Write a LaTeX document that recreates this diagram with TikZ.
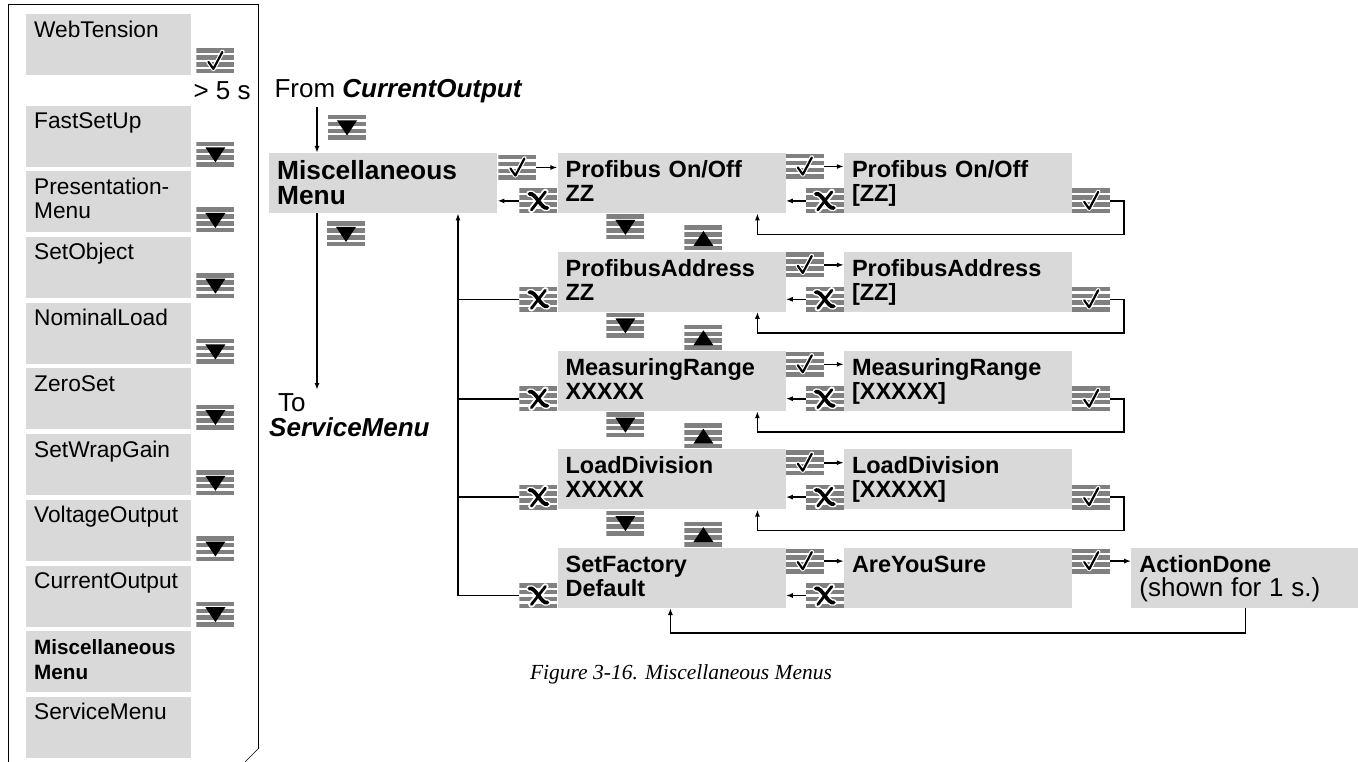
\documentclass[tikz,border=0pt]{standalone}
\usepackage{fontspec}
\setmainfont{Liberation Sans}
\newfontfamily\capfont{Liberation Serif}
\usetikzlibrary{arrows.meta, positioning, calc}
\definecolor{boxgray}{RGB}{217,217,217}
\definecolor{bargray}{RGB}{128,128,128}

% key symbols, drawn inside the icon (y runs downwards)
\newcommand{\keystripes}{\foreach \k in {0,1,2,3}
  \fill[bargray] ([yshift=-\k*6.833pt]path picture bounding box.north west) rectangle ++(38pt,-4.5pt);}
\newcommand{\symdown}{\fill[black, shift={(path picture bounding box.center)}] (-10,-7) -- (10,-7) -- (0,8) -- cycle;}
\newcommand{\symup}{\fill[black, shift={(path picture bounding box.center)}] (-10,8) -- (10,8) -- (0,-7) -- cycle;}
\newcommand{\symcheck}{\begin{scope}[shift={(path picture bounding box.center)}, line cap=round, line join=round]
  \draw[white, line width=4.5pt] (-7,1) -- (-2,8) -- (7,-9);
  \draw[black, line width=2.2pt] (-7,1) -- (-2,8) -- (7,-9);
  \end{scope}}
\newcommand{\symesc}{\begin{scope}[shift={(path picture bounding box.center)}, line cap=round]
  \draw[white, line width=6.5pt] (-9,-7) .. controls (-3,-9) and (3,9) .. (9,7) (7,-9) -- (-7,9);
  \draw[black, line width=3.8pt] (-9,-7) .. controls (-3,-9) and (3,9) .. (9,7);
  \draw[black, line width=2.8pt] (7,-9) -- (-7,9);
  \end{scope}}

\tikzset{
  keybars/.style={minimum width=38pt, minimum height=25pt, inner sep=0pt, outer sep=0pt},
  keychk/.style={keybars, path picture={\keystripes\symcheck}},
  keyesc/.style={keybars, path picture={\keystripes\symesc}},
  keydn/.style={keybars, path picture={\keystripes\symdown}},
  keyup/.style={keybars, path picture={\keystripes\symup}}
}

\begin{document}
\begin{tikzpicture}[x=1pt, y=-1pt,
    lbox/.style={fill=boxgray, anchor=north west, text width=149pt, inner xsep=8pt, inner ysep=7pt, text height=16pt, text depth=31pt, align=left, font=\fontsize{22.7}{24}\selectfont},
    mbox/.style={fill=boxgray, anchor=north west, text width=212pt, inner xsep=8pt, inner ysep=8pt, text height=16.5pt, text depth=27.5pt, align=left, font=\bfseries\fontsize{23.5}{24}\selectfont},
    annot/.style={font=\fontsize{26}{25}\selectfont},
    conn/.style={-{Latex[length=7pt,width=5pt]}, line width=1.6pt},
    plain/.style={line width=1.6pt}
  ]
  \useasboundingbox (0,0) rectangle (1358,762);

  % menu column on the left
  \draw[line width=1pt] (8,762) -- (8,5) -- (258,5) -- (258,749);
  \draw[line width=0.5pt] (258,749) -- (245,762);

  \node[lbox] (web) at (26,14) {WebTension};
  \node[keychk, above right=2pt and 5pt of web.south east] (web-chk) {};
  \node[annot, anchor=base west] (hold) at (190,100) {> 5 s};
  \node[lbox, below=30pt of web] (fast) {FastSetUp};
  \node[lbox, below=4.3pt of fast] (pres) {Presentation-\\Menu};
  \node[lbox, below=4.3pt of pres] (sobj) {SetObject};
  \node[lbox, below=4.3pt of sobj] (nload) {NominalLoad};
  \node[lbox, below=4.3pt of nload] (zset) {ZeroSet};
  \node[lbox, below=4.3pt of zset] (wrap) {SetWrapGain};
  \node[lbox, below=4.3pt of wrap] (vout) {VoltageOutput};
  \node[lbox, below=4.3pt of vout] (cout) {CurrentOutput};
  \node[lbox, below=4.3pt of cout, font=\bfseries\fontsize{20.7}{25}\selectfont] (mmenu) {Miscellaneous\\Menu};
  \node[lbox, below=4.3pt of mmenu] (smenu) {ServiceMenu};

  \node[keydn, above right=0pt and 5pt of fast.south east] (fast-dn) {};
  \node[keydn, above right=0pt and 5pt of pres.south east] (pres-dn) {};
  \node[keydn, above right=0pt and 5pt of sobj.south east] (sobj-dn) {};
  \node[keydn, above right=0pt and 5pt of nload.south east] (nload-dn) {};
  \node[keydn, above right=0pt and 5pt of zset.south east] (zset-dn) {};
  \node[keydn, above right=0pt and 5pt of wrap.south east] (wrap-dn) {};
  \node[keydn, above right=0pt and 5pt of vout.south east] (vout-dn) {};
  \node[keydn, above right=0pt and 5pt of cout.south east] (cout-dn) {};

  % Miscellaneous menu
  \node[annot, anchor=base west] (from) at (271,98) {From \textbf{\textit{CurrentOutput}}};
  \node[mbox, text height=18pt, text depth=26pt, font=\bfseries\fontsize{26.3}{25}\selectfont] (misc) at (269,153) {Miscellaneous\\Menu};
  \coordinate (entry) at ([xshift=48pt]misc.north west);
  \coordinate (bus) at ([xshift=189pt]misc.south west);
  \node[keydn, anchor=south west] (from-dn) at ([xshift=11pt,yshift=13pt]entry) {};
  \draw[conn] (entry |- from.south) -- (entry);
  \node[annot, anchor=north west, align=left, inner sep=3pt] (tosvc) at (266,390) {\hspace*{9pt}To\\\textbf{\textit{ServiceMenu}}};
  \node[keydn, anchor=north west] (misc-dn) at ([xshift=58pt,yshift=-8pt]misc.south west) {};
  \draw[conn] (entry |- misc.south) -- (entry |- tosvc.north);

  % row 1
  \node[mbox, right=60pt of misc] (pon) {Profibus On/Off\\ZZ};
  \node[mbox, right=58pt of pon] (ponz) {Profibus On/Off\\{[ZZ]}};
  \node[keychk, below right=2pt and 1pt of misc.north east] (misc-chk) {};
  \node[keyesc, above left=0pt and 0pt of pon.south west] (misc-esc) {};
  \node[keychk, below right=1pt and 0pt of pon.north east] (pon-chk) {};
  \node[keyesc, above left=0pt and 0pt of ponz.south west] (pon-esc) {};
  \node[keychk, above right=0pt and 0pt of ponz.south east] (ponz-ok) {};
  \draw[conn] (misc-chk.east) -- (misc-chk.east -| pon.west);
  \draw[conn] (misc-esc.west) -- (misc-esc.west -| misc.east);
  \draw[conn] (pon-chk.east) -- (pon-chk.east -| ponz.west);
  \draw[conn] (pon-esc.west) -- (pon-esc.west -| pon.east);
  \draw[conn] (ponz-ok.east) -- ++(14,0) |- ([xshift=200pt,yshift=-21pt]pon.south west) -- ([xshift=200pt]pon.south west);

  % row 2
  \node[mbox, below=38pt of pon] (pad) {ProfibusAddress\\ZZ};
  \node[mbox, right=58pt of pad] (padz) {ProfibusAddress\\{[ZZ]}};
  \node[keydn, below right=1pt and 49pt of pon.south west] (pon-dn) {};
  \node[keyup, above right=1pt and 127pt of pad.north west] (pad-up) {};
  \node[keyesc, above left=0pt and 0pt of pad.south west] (pad-in) {};
  \node[keychk, below right=1pt and 0pt of pad.north east] (pad-chk) {};
  \node[keyesc, above left=0pt and 0pt of padz.south west] (pad-esc) {};
  \node[keychk, above right=0pt and 0pt of padz.south east] (padz-ok) {};
  \draw[conn] (pad-chk.east) -- (pad-chk.east -| padz.west);
  \draw[conn] (pad-esc.west) -- (pad-esc.west -| pad.east);
  \draw[conn] (padz-ok.east) -- ++(14,0) |- ([xshift=200pt,yshift=-21pt]pad.south west) -- ([xshift=200pt]pad.south west);

  % row 3
  \node[mbox, below=39pt of pad] (mrg) {MeasuringRange\\XXXXX};
  \node[mbox, right=58pt of mrg] (mrgz) {MeasuringRange\\{[XXXXX]}};
  \node[keydn, below right=1pt and 49pt of pad.south west] (pad-dn) {};
  \node[keyup, above right=1pt and 127pt of mrg.north west] (mrg-up) {};
  \node[keyesc, above left=0pt and 0pt of mrg.south west] (mrg-in) {};
  \node[keychk, below right=1pt and 0pt of mrg.north east] (mrg-chk) {};
  \node[keyesc, above left=0pt and 0pt of mrgz.south west] (mrg-esc) {};
  \node[keychk, above right=0pt and 0pt of mrgz.south east] (mrgz-ok) {};
  \draw[conn] (mrg-chk.east) -- (mrg-chk.east -| mrgz.west);
  \draw[conn] (mrg-esc.west) -- (mrg-esc.west -| mrg.east);
  \draw[conn] (mrgz-ok.east) -- ++(14,0) |- ([xshift=200pt,yshift=-21pt]mrg.south west) -- ([xshift=200pt]mrg.south west);

  % row 4
  \node[mbox, below=38pt of mrg] (ldv) {LoadDivision\\XXXXX};
  \node[mbox, right=58pt of ldv] (ldvz) {LoadDivision\\{[XXXXX]}};
  \node[keydn, below right=1pt and 49pt of mrg.south west] (mrg-dn) {};
  \node[keyup, above right=1pt and 127pt of ldv.north west] (ldv-up) {};
  \node[keyesc, above left=0pt and 0pt of ldv.south west] (ldv-in) {};
  \node[keychk, below right=1pt and 0pt of ldv.north east] (ldv-chk) {};
  \node[keyesc, above left=0pt and 0pt of ldvz.south west] (ldv-esc) {};
  \node[keychk, above right=0pt and 0pt of ldvz.south east] (ldvz-ok) {};
  \draw[conn] (ldv-chk.east) -- (ldv-chk.east -| ldvz.west);
  \draw[conn] (ldv-esc.west) -- (ldv-esc.west -| ldv.east);
  \draw[conn] (ldvz-ok.east) -- ++(14,0) |- ([xshift=200pt,yshift=-21pt]ldv.south west) -- ([xshift=200pt]ldv.south west);

  % row 5
  \node[mbox, below=38pt of ldv] (sfd) {SetFactory\\Default};
  \node[mbox, right=58pt of sfd] (ays) {AreYouSure};
  \node[mbox, right=59pt of ays] (adone) {ActionDone\\{\mdseries\fontsize{26}{24}\selectfont(shown for 1 s.)}};
  \node[keydn, below right=1pt and 49pt of ldv.south west] (ldv-dn) {};
  \node[keyup, above right=1pt and 127pt of sfd.north west] (sfd-up) {};
  \node[keyesc, above left=0pt and 0pt of sfd.south west] (sfd-in) {};
  \node[keychk, below right=1pt and 0pt of sfd.north east] (sfd-chk) {};
  \node[keyesc, above left=0pt and 0pt of ays.south west] (sfd-esc) {};
  \node[keychk, below right=1pt and 0pt of ays.north east] (ays-chk) {};
  \draw[conn] (sfd-chk.east) -- (sfd-chk.east -| ays.west);
  \draw[conn] (sfd-esc.west) -- (sfd-esc.west -| sfd.east);
  \draw[conn] (ays-chk.east) -- (ays-chk.east -| adone.west);
  \draw[conn] (adone.south) -- ++(0,25) -| ([xshift=113pt]sfd.south west);

  % escape bus back to the menu
  \draw[conn] (sfd-in.west) -| (bus);
  \draw[plain] (pad-in.west) -- (pad-in.west -| bus);
  \draw[plain] (mrg-in.west) -- (mrg-in.west -| bus);
  \draw[plain] (ldv-in.west) -- (ldv-in.west -| bus);

  \node[anchor=base, font=\capfont\itshape\fontsize{21.5}{24}\selectfont] (cap) at (681,679) {Figure 3-16. Miscellaneous Menus};
\end{tikzpicture}
\end{document}
